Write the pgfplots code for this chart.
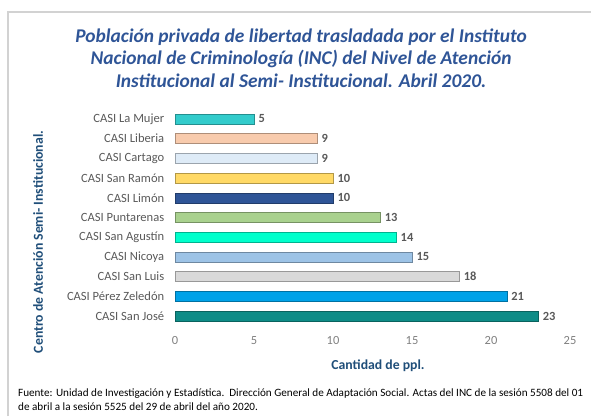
\documentclass[border=0pt]{standalone}
\usepackage{fontspec}
\setmainfont{Carlito}
\usepackage{pgfplots}
\pgfplotsset{compat=1.18}
\definecolor{titleblue}{HTML}{2F5597}
\definecolor{labblue}{HTML}{1F4E79}
\definecolor{txtgray}{HTML}{595959}
\definecolor{tickgray}{HTML}{7F7F7F}
\definecolor{c0}{HTML}{0E8C87}
\definecolor{c1}{HTML}{00A2E8}
\definecolor{c2}{HTML}{D9D9D9}
\definecolor{c3}{HTML}{9DC3E6}
\definecolor{c4}{HTML}{00FFCC}
\definecolor{c5}{HTML}{A9D18E}
\definecolor{c6}{HTML}{2F5597}
\definecolor{c7}{HTML}{FFD966}
\definecolor{c8}{HTML}{DEEBF7}
\definecolor{c9}{HTML}{F8CBAD}
\definecolor{c10}{HTML}{33CCCC}
\begin{document}
\begin{tikzpicture}[x=1bp,y=1bp]
\path[use as bounding box] (0,0) rectangle (591,416);
\draw[gray!35, line width=1.2bp] (8,0) -- (8,404) -- (591,404);
\node[font=\bfseries\itshape\fontsize{19.5}{22.5}\selectfont, text=titleblue, align=center] at (301,358)
 {Población privada de libertad trasladada por el Instituto\\Nacional de Criminología (INC) del Nivel de Atención\\Institucional al Semi- Institucional. Abril 2020.};
\begin{axis}[at={(175bp,90bp)}, anchor=south west, scale only axis,
 width=395bp, height=217bp,
 xmin=0, xmax=25, ymin=-0.5, ymax=10.5,
 xbar, bar width=10bp, bar shift=0pt,
 axis line style={draw=none}, major tick style={draw=none},
 xtick={0,5,10,15,20,25},
 ytick={0,...,10},
 yticklabels={CASI San José,CASI Pérez Zeledón,CASI San Luis,CASI Nicoya,CASI San Agustín,CASI Puntarenas,CASI Limón,CASI San Ramón,CASI Cartago,CASI Liberia,CASI La Mujer},
 /pgf/number format/assume math mode=true,
 xticklabel style={font=\fontsize{12.5}{14}\selectfont, text=tickgray, yshift=-7bp},
 yticklabel style={font=\fontsize{12.6}{14}\selectfont, text=txtgray, xshift=-3bp},
 nodes near coords, point meta=x,
 nodes near coords style={font=\bfseries\fontsize{12.5}{14}\selectfont, text=txtgray, anchor=west, xshift=1bp},
 clip=false]
\addplot[fill=c0, draw=c0!70!black] coordinates {(23,0)};
\addplot[fill=c1, draw=c1!70!black] coordinates {(21,1)};
\addplot[fill=c2, draw=c2!70!black] coordinates {(18,2)};
\addplot[fill=c3, draw=c3!70!black] coordinates {(15,3)};
\addplot[fill=c4, draw=c4!70!black] coordinates {(14,4)};
\addplot[fill=c5, draw=c5!70!black] coordinates {(13,5)};
\addplot[fill=c6, draw=c6!70!black] coordinates {(10,6)};
\addplot[fill=c7, draw=c7!70!black] coordinates {(10,7)};
\addplot[fill=c8, draw=c8!70!black] coordinates {(9,8)};
\addplot[fill=c9, draw=c9!70!black] coordinates {(9,9)};
\addplot[fill=c10, draw=c10!70!black] coordinates {(5,10)};
\end{axis}
\node[font=\bfseries\fontsize{13.8}{16}\selectfont, text=labblue] at (378,50) {Cantidad de ppl.};
\node[font=\bfseries\fontsize{13.8}{16}\selectfont, text=labblue, rotate=90] at (38,174) {Centro de Atención Semi- Institucional.};
\node[font=\fontsize{11.2}{14}\selectfont, anchor=base west, align=left, inner sep=0pt] at (18,6)
 {Fuente: Unidad de Investigación y Estadística.\ \ Dirección General de Adaptación Social. Actas del INC de la sesión 5508 del 01\\de abril a la sesión 5525 del 29 de abril del año 2020.};
\end{tikzpicture}
\end{document}
